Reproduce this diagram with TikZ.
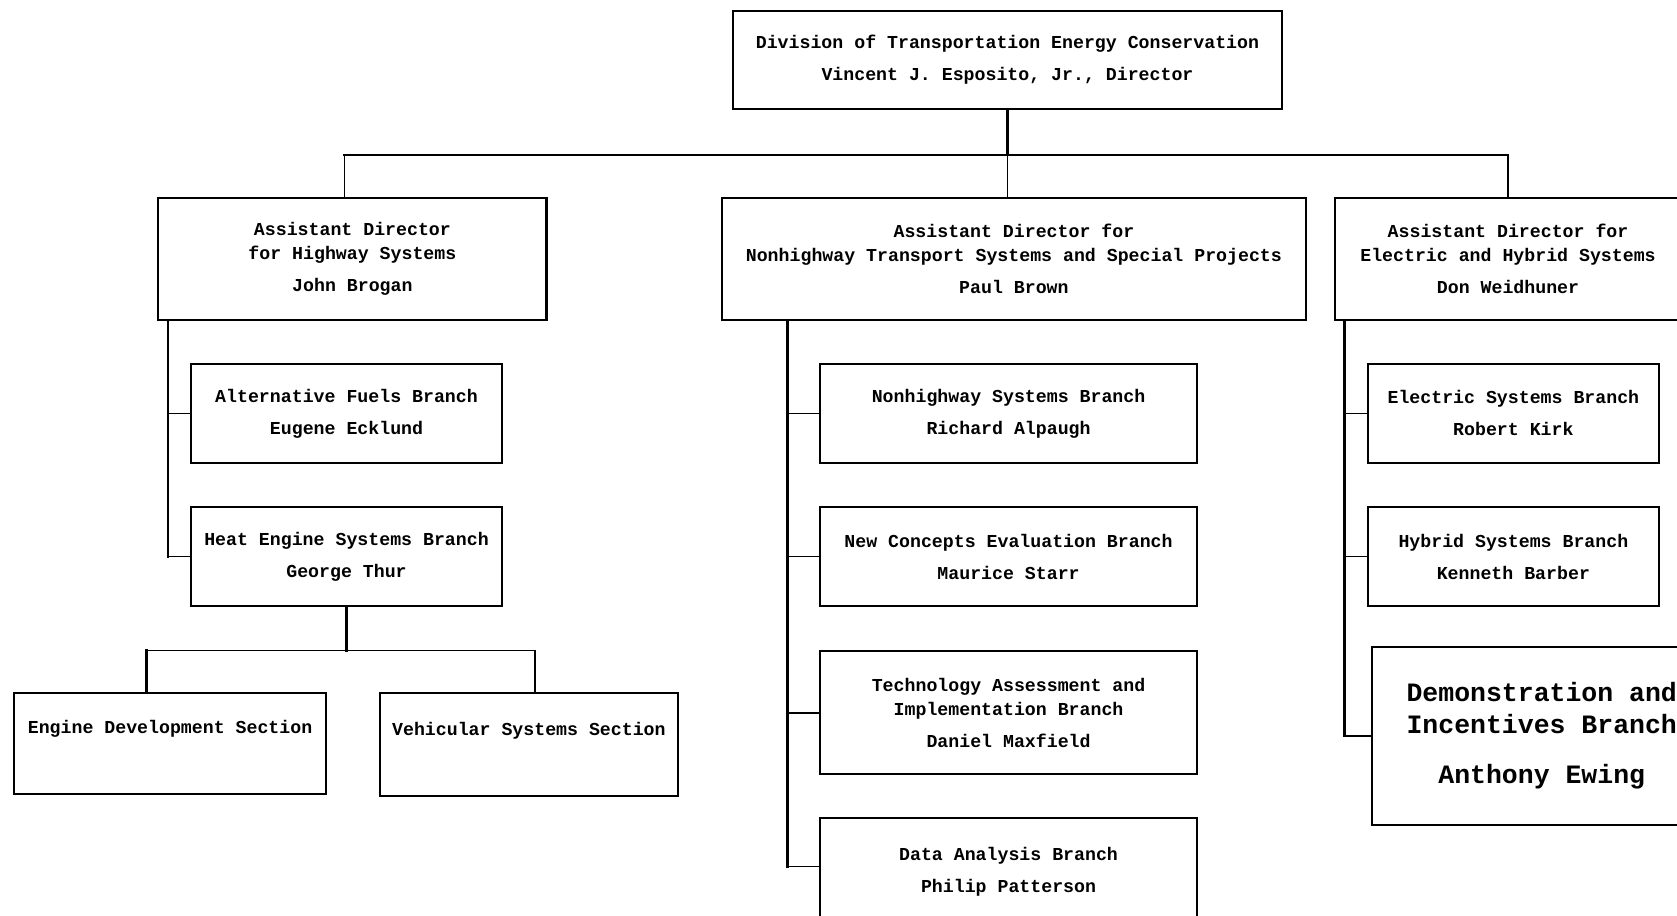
\documentclass[tikz,border=0pt]{standalone}
\usepackage{fontspec}
\usepackage{tikz}
\usetikzlibrary{calc}
\newfontfamily\chartfont{Liberation Mono}

\begin{document}
\begin{tikzpicture}[x=0.2mm,y=-0.2mm,line cap=rect,
  box/.style 2 args={draw,line width=1.1pt,inner sep=0pt,align=center,
    minimum width=#1*0.2mm,minimum height=#2*0.2mm,
    font=\chartfont\bfseries\fontsize{9.7}{12.5}\selectfont},
  bigtext/.style={font=\chartfont\bfseries\fontsize{14.1}{17}\selectfont},
  link/.style={line width=0.8pt},
  spine/.style={line width=1.5pt}]
\useasboundingbox (0,0) rectangle (1568,856);

\node[box={514}{92}] (dir) at (942,56) {Division of Transportation Energy Conservation\\[4.5pt]Vincent J. Esposito, Jr., Director};

\node[box={363}{114}] (hw) at (329.5,242) {Assistant Director\\for Highway Systems\\[4.5pt]John Brogan};
\node[box={546}{114}] (nh) at (948,242) {Assistant Director for\\Nonhighway Transport Systems and Special Projects\\[4.5pt]Paul Brown};
\node[box={324}{114}] (eh) at (1410,242) {Assistant Director for\\Electric and Hybrid Systems\\[4.5pt]Don Weidhuner};

% highway systems
\node[box={290}{93}] (alt) at (324,386.5) {Alternative Fuels Branch\\[4.5pt]Eugene Ecklund};
\node[box={290}{93}] (heat) at (324,520.5) {Heat Engine Systems Branch\\[4.5pt]George Thur};
\node[box={292}{94}] (ed) at (159,695) {Engine Development Section\\[4.5pt]\mbox{}};
\node[box={279}{96}] (vs) at (494.5,696) {Vehicular Systems Section\\[4.5pt]\mbox{}};

% nonhighway systems
\node[box={352}{93}] (nsb) at (943,386.5) {Nonhighway Systems Branch\\[4.5pt]Richard Alpaugh};
\node[box={352}{93}] (nce) at (943,520.5) {New Concepts Evaluation Branch\\[4.5pt]Maurice Starr};
\node[box={352}{115}] (tai) at (943,666.5) {Technology Assessment and\\Implementation Branch\\[4.5pt]Daniel Maxfield};
\node[box={352}{101}] (dab) at (943,815.5) {Data Analysis Branch\\[4.5pt]Philip Patterson};

% electric and hybrid systems
\node[box={272}{93}] (esb) at (1415,386.5) {Electric Systems Branch\\[4.5pt]Robert Kirk};
\node[box={272}{93}] (hsb) at (1415,520.5) {Hybrid Systems Branch\\[4.5pt]Kenneth Barber};
\node[box={317}{166},bigtext] (dib) at (1441.5,688) {Demonstration and\\Incentives Branch\\[9.7pt]Anthony Ewing};

\coordinate (busW) at (322,145);
\coordinate (busE) at (1410,145);
\draw[spine] (dir.south) -- (dir.south |- busW);
\draw[spine] (busW) -- (busE);
\draw[link] (busW) -- (busW |- hw.north);
\draw[link] (dir.south |- busW) -- (dir.south |- nh.north);
\draw[link] (busE) -- (busE |- eh.north);

\coordinate (hwsp) at ($(hw.south west)+(10,0)$);
\draw[spine] (hwsp) -- (hwsp |- heat.west);
\draw[link] (alt.west) -- (alt.west -| hwsp);
\draw[link] (heat.west) -- (heat.west -| hwsp);

\coordinate (sbW) at (137,608);
\coordinate (sbE) at (500,608);
\draw[spine] (heat.south) -- (heat.south |- sbW);
\draw[link] (sbW) -- (sbE);
\draw[spine] (sbW) -- (sbW |- ed.north);
\draw[link] (sbE) -- (sbE |- vs.north);

\coordinate (nhsp) at ($(nh.south west)+(62,0)$);
\draw[spine] (nhsp) -- (nhsp |- 0,810);
\foreach \b in {nsb,nce,tai}
  \draw[link] (\b.west) -- (\b.west -| nhsp);
\draw[link] (nhsp |- 0,810) -- (dab.west |- 0,810);

\coordinate (ehsp) at ($(eh.south west)+(10,0)$);
\draw[spine] (ehsp) -- (ehsp |- dib.west);
\foreach \b in {esb,hsb,dib}
  \draw[link] (\b.west) -- (\b.west -| ehsp);
\end{tikzpicture}
\end{document}
